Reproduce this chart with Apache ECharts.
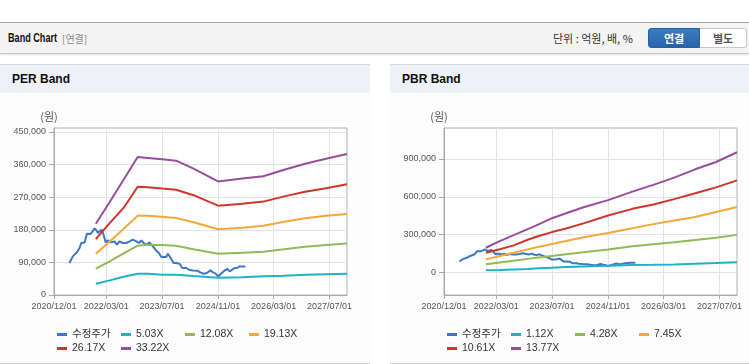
<!DOCTYPE html>
<html>
<head>
<meta charset="utf-8">
<script src="https://cdn.jsdelivr.net/npm/echarts/dist/echarts.min.js"></script>
<style>
  html, body { margin: 0; padding: 0; background: #fff; }
  body { width: 749px; height: 364px; position: relative; overflow: hidden;
         font-family: "Liberation Sans", "Noto Sans CJK KR", sans-serif; }
  #hdr { position: absolute; left: 0; top: 22px; width: 749px; height: 30px;
         background: #f4f4f4; border-top: 1px solid #a8a8a8; border-bottom: 1px solid #c9c9c9;
         box-shadow: 0 1px 2px rgba(0,0,0,0.12); }
  #hdrTitle { position: absolute; left: 8px; top: 7px; font-size: 13px; font-weight: bold; color: #111;
              transform: scaleX(0.7); transform-origin: left center; white-space: nowrap; }
  #hdrSub { position: absolute; left: 62px; top: 8px; font-size: 10px; color: #888; white-space: nowrap;
            font-family: "Noto Sans CJK KR", sans-serif; }
  #unit { position: absolute; left: 553px; top: 7px; font-size: 11px; color: #333; white-space: nowrap;
          font-family: "Noto Sans CJK KR", sans-serif; }
  .btn { position: absolute; top: 5px; height: 20px; line-height: 19px; text-align: center;
         font-size: 11px; font-weight: bold; font-family: "Noto Sans CJK KR", sans-serif; box-sizing: border-box; }
  #b1 { left: 648px; width: 52px; background: linear-gradient(#3a7cc4, #2a63a8); color: #fff;
        border: 1px solid #2a5f9e; border-radius: 3px 0 0 3px; }
  #b2 { left: 700px; width: 47px; background: #fff; color: #555; border: 1px solid #c8c8c8; border-left: none;
        border-radius: 0 3px 3px 0; }
  .panel { position: absolute; top: 64px; height: 298px; background: #fdfdfd;
           border-top: 1px solid #d8d8d8; border-bottom: 1px solid #d0d0d0; }
  .phead { position: absolute; left: 0; top: 0; right: 0; height: 28px; background: #eef1f5; }
  .ptitle { position: absolute; left: 12px; top: 7px; font-size: 12px; font-weight: bold; color: #111; white-space: nowrap; }
  #chart { position: absolute; left: 0; top: 0; width: 749px; height: 364px; }
</style>
</head>
<body>
<div id="hdr">
  <div id="hdrTitle">Band Chart</div>
  <div id="hdrSub">[연결]</div>
  <div id="unit">단위 : 억원, 배, %</div>
  <div class="btn" id="b1">연결</div>
  <div class="btn" id="b2">별도</div>
</div>
<div class="panel" style="left:0;width:370px;"><div class="phead"><div class="ptitle">PER Band</div></div></div>
<div class="panel" style="left:390px;width:359px;"><div class="phead"><div class="ptitle">PBR Band</div></div></div>
<div id="chart"></div>
<script>
// ---------------- data ----------------
const xTickLabels = ['2020-12-01','2022-03-01','2023-07-01','2024-11-01','2026-03-01','2027-07-01'];
const xMin = '2020-12-01';
const xMax = '2027-12-01';

const perYTicks = [0, 90000, 180000, 270000, 360000, 450000];
const pbrYTicks = [0, 300000, 600000, 900000];

const priceDates = ['2021-04-15','2021-05-14','2021-06-18','2021-07-12','2021-07-27','2021-08-25','2021-09-14','2021-10-01','2021-10-14','2021-11-01','2021-11-21','2021-12-06','2021-12-19','2022-01-04','2022-01-19','2022-02-02','2022-02-25','2022-03-15','2022-04-14','2022-05-13','2022-06-02','2022-06-25','2022-07-24','2022-08-23','2022-09-22','2022-10-20','2022-11-18','2022-12-12','2023-01-03','2023-01-22','2023-02-15','2023-03-14','2023-04-12','2023-05-11','2023-06-04','2023-06-25','2023-07-08','2023-08-07','2023-08-22','2023-09-06','2023-09-20','2023-10-10','2023-11-03','2023-12-02','2023-12-25','2024-01-30','2024-02-21','2024-03-26','2024-05-01','2024-05-30','2024-06-28','2024-07-27','2024-08-26','2024-09-18','2024-10-11','2024-11-01','2024-11-16','2024-12-09','2024-12-29','2025-01-22','2025-02-11','2025-02-26','2025-03-26','2025-04-15','2025-05-08','2025-06-28'];
const priceValues = [88300,106600,117600,129800,143600,145200,169200,172800,168400,174800,183900,178300,171200,175600,180300,171200,145200,150700,145200,148000,138900,148000,143600,143600,148000,152700,148000,143600,150700,143600,138900,145200,134200,123100,116000,104900,104900,104900,114000,111300,99400,88300,88300,86400,74500,74500,69800,67900,67100,62400,58800,60700,67900,62400,58800,51300,56000,62400,67900,71800,65200,67900,74500,74500,79000,79000];

const bandDates = ['2021-12-01','2022-04-01','2022-08-01','2022-12-01','2023-03-01','2023-07-01','2023-11-01','2024-04-01','2024-11-01','2025-06-01','2025-12-01','2026-06-01','2026-12-01','2027-06-01','2027-12-01'];

const perNames = ['수정주가','5.03X','12.08X','19.13X','26.17X','33.22X'];
const per503  = [31200,40300,50500,58800,58800,56000,56000,52500,47800,49100,51900,53300,56000,57400,58800];
const per1208 = [72600,93000,114800,136100,138900,138000,136100,126400,114000,116800,119500,126400,133300,138000,142400];
const per1913 = [114000,147700,183000,218900,218900,216200,212600,201000,181700,185800,191300,202400,212000,218900,223600];
const per2617 = [154600,198200,241000,299000,297600,294000,290700,275500,246500,252000,257800,272200,285200,294800,305900];
const per3322 = [196800,256700,318600,381000,378500,374900,370800,348700,313600,321600,328000,345600,362200,376300,389300];

const pbrNames = ['수정주가','1.12X','4.28X','7.45X','10.61X','13.77X'];
const pbr112  = [18000,20000,25000,29000,34000,39000,44000,49000,55000,60000,62000,65000,71000,76000,82000];
const pbr428  = [66000,80000,95000,109000,119000,132000,145000,161000,184000,208000,225000,241000,258000,277000,299000];
const pbr745  = [105000,132000,158000,184000,203000,226000,251000,280000,314000,351000,384000,412000,441000,480000,520000];
const pbr1061 = [158000,185000,216000,260000,288000,321000,350000,390000,452000,505000,540000,582000,628000,675000,730000];
const pbr1377 = [197000,250000,297000,345000,380000,431000,470000,518000,574000,641000,695000,752000,818000,876000,953000];

const colors = ['#3d78c6','#1fb2c6','#8fba56','#f6a73a','#d0352b','#974f9a'];

// ---------------- chart ----------------
function ts(s) { const p = s.split('-').map(Number); return new Date(p[0], p[1] - 1, p[2]).getTime(); }
function pairs(dates, vals) { return dates.map((d, i) => [ts(d), vals[i]]); }
function fmtDate(v) {
  const d = new Date(v);
  const p = n => (n < 10 ? '0' : '') + n;
  return d.getFullYear() + '/' + p(d.getMonth() + 1) + '/' + p(d.getDate());
}
function fmtNum(v) { return String(v).replace(/\B(?=(\d{3})+(?!\d))/g, ','); }

const axisLineColor = '#a9a9a9';
const gridLineColor = '#e4e4e4';
const labelColor = '#555';
const xTicks = xTickLabels.map(ts);

function makeX(gi) {
  return {
    type: 'value', gridIndex: gi, min: ts(xMin), max: ts(xMax),
    axisLine: { show: true, onZero: false, lineStyle: { color: axisLineColor } },
    axisTick: { show: true, length: 4, lineStyle: { color: axisLineColor }, customValues: xTicks },
    axisLabel: { color: labelColor, fontSize: 9, margin: 7, customValues: xTicks,
                 formatter: fmtDate, fontFamily: 'Liberation Sans' },
    splitLine: { show: true, lineStyle: { color: gridLineColor } }
  };
}
function makeY(gi, min, max, ticks) {
  return {
    type: 'value', gridIndex: gi, min: min, max: max,
    name: '(원)', nameLocation: 'end', nameGap: 6,
    nameTextStyle: { color: labelColor, fontSize: 11, align: 'center', padding: [0, 10, 0, 0],
                     fontFamily: 'Noto Sans CJK KR' },
    axisLine: { show: true, onZero: false, lineStyle: { color: axisLineColor } },
    axisTick: { show: true, length: 5, lineStyle: { color: axisLineColor }, customValues: ticks },
    axisLabel: { color: labelColor, fontSize: 9, margin: 8, customValues: ticks,
                 formatter: fmtNum, fontFamily: 'Liberation Sans' },
    splitLine: { show: true, lineStyle: { color: gridLineColor } }
  };
}
function line(name, gi, data, color) {
  return {
    type: 'line', name: name, xAxisIndex: gi, yAxisIndex: gi, data: data,
    showSymbol: false, symbol: 'none', lineStyle: { width: 2, color: color }, itemStyle: { color: color }
  };
}
function makeLegend(left, names) {
  return {
    left: left, top: 324, width: 262, orient: 'horizontal',
    icon: 'rect', itemWidth: 10, itemHeight: 3, itemGap: 3,
    data: names,
    textStyle: { color: '#333', fontSize: 10.5, width: 46, lineHeight: 11,
                 fontFamily: 'Liberation Sans, Noto Sans CJK KR' }
  };
}

const perBands = [per503, per1208, per1913, per2617, per3322];
const pbrBands = [pbr112, pbr428, pbr745, pbr1061, pbr1377];

const series = [];
series.push(line(perNames[0], 0, pairs(priceDates, priceValues), colors[0]));
perBands.forEach((b, i) => series.push(line(perNames[i + 1], 0, pairs(bandDates, b), colors[i + 1])));
series.push(line(pbrNames[0], 1, pairs(priceDates, priceValues), colors[0]));
pbrBands.forEach((b, i) => series.push(line(pbrNames[i + 1], 1, pairs(bandDates, b), colors[i + 1])));

const chart = echarts.init(document.getElementById('chart'), null, { renderer: 'canvas' });
chart.setOption({
  animation: false,
  backgroundColor: 'transparent',
  grid: [
    { left: 54, top: 128, width: 293, height: 167, show: true, borderColor: '#b0b0b0', borderWidth: 1, backgroundColor: '#fff' },
    { left: 444, top: 128, width: 293, height: 167, show: true, borderColor: '#b0b0b0', borderWidth: 1, backgroundColor: '#fff' }
  ],
  xAxis: [makeX(0), makeX(1)],
  yAxis: [makeY(0, 0, 461000, perYTicks), makeY(1, -177000, 1145000, pbrYTicks)],
  legend: [makeLegend(52, perNames), makeLegend(442, pbrNames)],
  series: series
});
</script>
</body>
</html>
